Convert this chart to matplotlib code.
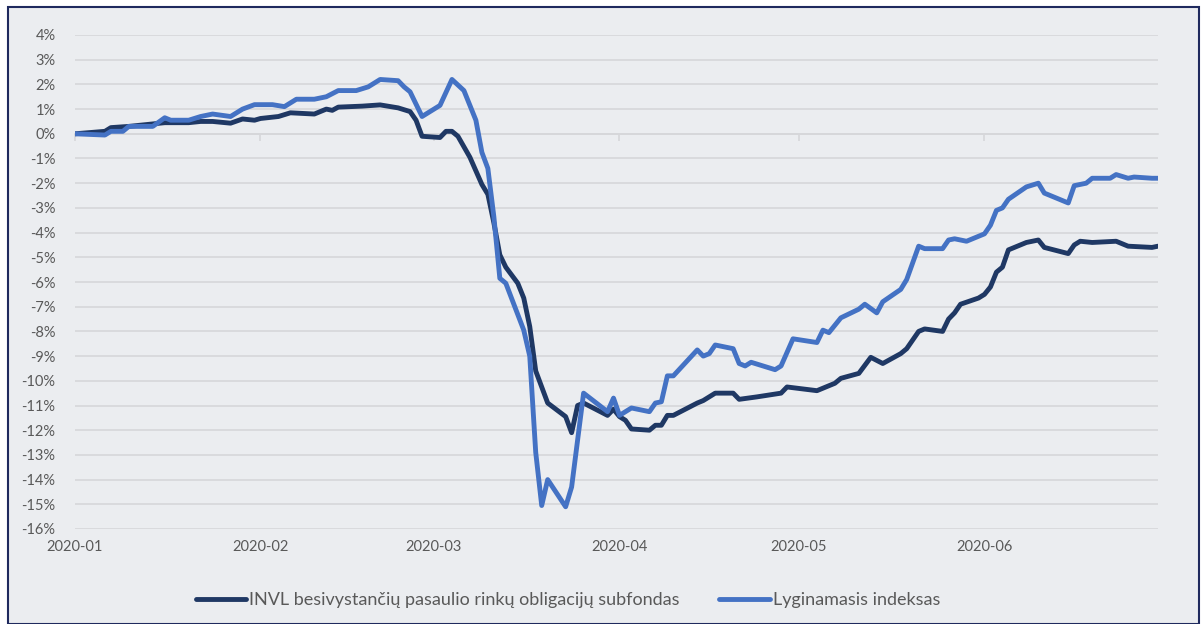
"""Fondo ir lyginamojo indekso graza 2020 m. pirmame pusmetyje."""

import matplotlib.pyplot as plt
import matplotlib.dates as mdates
import matplotlib.ticker as mticker
import numpy as np
import pandas as pd
from matplotlib.patches import Rectangle


FUND_LABEL = "INVL besivystančių pasaulio rinkų obligacijų subfondas"
INDEX_LABEL = "Lyginamasis indeksas"

FUND_DATES = [
    "2020-01-01", "2020-01-06", "2020-01-07", "2020-01-10", "2020-01-14",
    "2020-01-16", "2020-01-20", "2020-01-22", "2020-01-24", "2020-01-27",
    "2020-01-29", "2020-01-31", "2020-02-01", "2020-02-04", "2020-02-06",
    "2020-02-10", "2020-02-12", "2020-02-13", "2020-02-14", "2020-02-18",
    "2020-02-21", "2020-02-24", "2020-02-26", "2020-02-27", "2020-02-28",
    "2020-03-02", "2020-03-03", "2020-03-04", "2020-03-05", "2020-03-07",
    "2020-03-09", "2020-03-10", "2020-03-11", "2020-03-12", "2020-03-13",
    "2020-03-15", "2020-03-16", "2020-03-17", "2020-03-18", "2020-03-20",
    "2020-03-23", "2020-03-24", "2020-03-25", "2020-03-26", "2020-03-30",
    "2020-03-31", "2020-04-01", "2020-04-02", "2020-04-03", "2020-04-06",
    "2020-04-07", "2020-04-08", "2020-04-09", "2020-04-10", "2020-04-14",
    "2020-04-15", "2020-04-17", "2020-04-20", "2020-04-21", "2020-04-24",
    "2020-04-28", "2020-04-29", "2020-05-04", "2020-05-07", "2020-05-08",
    "2020-05-11", "2020-05-13", "2020-05-15", "2020-05-18", "2020-05-19",
    "2020-05-21", "2020-05-22", "2020-05-25", "2020-05-26", "2020-05-27",
    "2020-05-28", "2020-05-31", "2020-06-01", "2020-06-02", "2020-06-03",
    "2020-06-04", "2020-06-05", "2020-06-08", "2020-06-09", "2020-06-10",
    "2020-06-11", "2020-06-15", "2020-06-16", "2020-06-17", "2020-06-19",
    "2020-06-23", "2020-06-25", "2020-06-29", "2020-06-30",
]
FUND_VALUES = [
    0.0, 0.1, 0.25, 0.3, 0.4,
    0.45, 0.45, 0.5, 0.5, 0.43,
    0.6, 0.55, 0.62, 0.7, 0.85,
    0.8, 1.0, 0.95, 1.08, 1.12,
    1.17, 1.05, 0.9, 0.55, -0.1,
    -0.15, 0.1, 0.1, -0.1, -0.95,
    -2.05, -2.45, -3.6, -4.9, -5.4,
    -6.05, -6.65, -7.8, -9.6, -10.9,
    -11.45, -12.1, -11.0, -10.9, -11.4,
    -11.15, -11.45, -11.6, -11.95, -12.0,
    -11.8, -11.8, -11.4, -11.4, -10.9,
    -10.8, -10.5, -10.5, -10.75, -10.65,
    -10.5, -10.25, -10.4, -10.1, -9.9,
    -9.7, -9.05, -9.3, -8.9, -8.7,
    -8.0, -7.9, -8.0, -7.5, -7.25,
    -6.9, -6.65, -6.5, -6.2, -5.6,
    -5.4, -4.7, -4.4, -4.35, -4.3,
    -4.6, -4.85, -4.5, -4.35, -4.4,
    -4.35, -4.55, -4.6, -4.55,
]

INDEX_DATES = [
    "2020-01-01", "2020-01-06", "2020-01-07", "2020-01-09", "2020-01-10",
    "2020-01-14", "2020-01-16", "2020-01-17", "2020-01-20", "2020-01-22",
    "2020-01-24", "2020-01-27", "2020-01-29", "2020-01-31", "2020-02-03",
    "2020-02-05", "2020-02-07", "2020-02-10", "2020-02-12", "2020-02-14",
    "2020-02-17", "2020-02-19", "2020-02-21", "2020-02-24", "2020-02-25",
    "2020-02-26", "2020-02-28", "2020-03-02", "2020-03-04", "2020-03-06",
    "2020-03-08", "2020-03-09", "2020-03-10", "2020-03-11", "2020-03-12",
    "2020-03-13", "2020-03-16", "2020-03-17", "2020-03-18", "2020-03-19",
    "2020-03-20", "2020-03-23", "2020-03-24", "2020-03-26", "2020-03-30",
    "2020-03-31", "2020-04-01", "2020-04-03", "2020-04-06", "2020-04-07",
    "2020-04-08", "2020-04-09", "2020-04-10", "2020-04-14", "2020-04-15",
    "2020-04-16", "2020-04-17", "2020-04-20", "2020-04-21", "2020-04-22",
    "2020-04-23", "2020-04-27", "2020-04-28", "2020-04-30", "2020-05-04",
    "2020-05-05", "2020-05-06", "2020-05-08", "2020-05-11", "2020-05-12",
    "2020-05-14", "2020-05-15", "2020-05-18", "2020-05-19", "2020-05-21",
    "2020-05-22", "2020-05-25", "2020-05-26", "2020-05-27", "2020-05-29",
    "2020-06-01", "2020-06-02", "2020-06-03", "2020-06-04", "2020-06-05",
    "2020-06-08", "2020-06-10", "2020-06-11", "2020-06-15", "2020-06-16",
    "2020-06-18", "2020-06-19", "2020-06-22", "2020-06-23", "2020-06-25",
    "2020-06-26", "2020-06-29", "2020-06-30",
]
INDEX_VALUES = [
    0.0, -0.05, 0.1, 0.1, 0.3,
    0.3, 0.65, 0.55, 0.55, 0.7,
    0.8, 0.7, 1.0, 1.18, 1.18,
    1.1, 1.4, 1.4, 1.5, 1.75,
    1.75, 1.9, 2.2, 2.15, 1.9,
    1.7, 0.7, 1.15, 2.2, 1.75,
    0.55, -0.75, -1.4, -3.35, -5.85,
    -6.05, -7.95, -9.0, -12.9, -15.05,
    -14.0, -15.1, -14.3, -10.5, -11.25,
    -10.7, -11.4, -11.1, -11.25, -10.9,
    -10.85, -9.8, -9.8, -8.75, -9.0,
    -8.9, -8.55, -8.7, -9.3, -9.4,
    -9.25, -9.55, -9.4, -8.3, -8.45,
    -7.95, -8.05, -7.45, -7.1, -6.9,
    -7.25, -6.8, -6.3, -5.9, -4.55,
    -4.65, -4.65, -4.3, -4.25, -4.35,
    -4.05, -3.7, -3.1, -3.0, -2.65,
    -2.15, -2.0, -2.4, -2.8, -2.1,
    -2.0, -1.8, -1.8, -1.65, -1.8,
    -1.75, -1.8, -1.8,
]

BG_COLOR = "#ebedf0"
GRID_COLOR = "#d6d7da"
TEXT_COLOR = "#595959"
FUND_COLOR = "#1f3864"
INDEX_COLOR = "#4472c4"


def main():
    plt.rcParams["font.family"] = ["Lato", "DejaVu Sans"]

    fund_x = pd.to_datetime(FUND_DATES)
    index_x = pd.to_datetime(INDEX_DATES)
    fund_y = np.array(FUND_VALUES) / 100
    index_y = np.array(INDEX_VALUES) / 100

    fig = plt.figure(figsize=(12.03, 6.24), dpi=100)
    fig.patch.set_facecolor("white")
    fig.patches.append(
        Rectangle((8 / 1203, 0), 1191 / 1203, 617 / 624, transform=fig.transFigure,
                  facecolor=BG_COLOR, edgecolor="#1f2a5e", linewidth=1.5, zorder=-10)
    )

    ax = fig.add_axes([75 / 1203, 1 - 529 / 624, 1083 / 1203, 494 / 624])
    ax.set_facecolor("none")

    ax.plot(fund_x, fund_y, color=FUND_COLOR, linewidth=3.5, label=FUND_LABEL,
            solid_joinstyle="round", solid_capstyle="round", zorder=3)
    ax.plot(index_x, index_y, color=INDEX_COLOR, linewidth=3.5, label=INDEX_LABEL,
            solid_joinstyle="round", solid_capstyle="round", zorder=4)

    ax.set_ylim(-0.16, 0.04)
    ax.set_xlim(pd.Timestamp("2020-01-01"), pd.Timestamp("2020-06-30"))
    ax.yaxis.set_major_locator(mticker.MultipleLocator(0.01))
    ax.yaxis.set_major_formatter(mticker.FuncFormatter(lambda v, _: f"{v * 100:.0f}%"))
    ax.xaxis.set_major_locator(mdates.MonthLocator())
    ax.xaxis.set_major_formatter(mdates.DateFormatter("%Y-%m"))

    ax.grid(axis="y", color=GRID_COLOR, linewidth=1.2)
    ax.set_axisbelow(True)
    for name in ("left", "right", "bottom"):
        ax.spines[name].set_visible(False)
    ax.spines["top"].set_position(("data", 0))
    ax.spines["top"].set_color(GRID_COLOR)
    ax.spines["top"].set_linewidth(1.2)

    ax.tick_params(axis="y", length=0, pad=14, labelsize=10.5, labelcolor=TEXT_COLOR)
    ax.tick_params(axis="x", bottom=False, top=True, labelbottom=True, labeltop=False,
                   direction="in", length=5, color=GRID_COLOR, width=1.2,
                   pad=8, labelsize=10.5, labelcolor=TEXT_COLOR)
    for label in ax.get_xticklabels():
        label.set_horizontalalignment("center")

    fig.legend(loc="center", bbox_to_anchor=(568 / 1203, 1 - 600 / 624), ncol=2,
               frameon=False, fontsize=13, labelcolor=TEXT_COLOR, handlelength=2.8,
               handletextpad=0.15, columnspacing=2.2)

    fig.savefig("out.png", dpi=100, facecolor=fig.get_facecolor())
    plt.close(fig)


if __name__ == "__main__":
    main()
